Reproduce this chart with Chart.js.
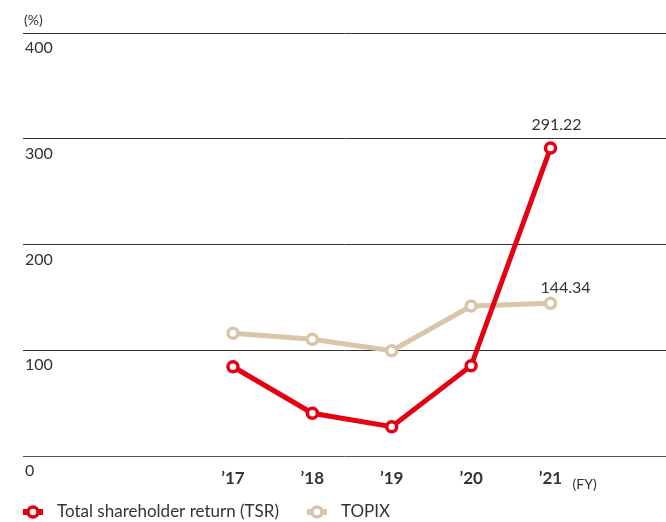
<!DOCTYPE html>
<html>
<head>
<meta charset="utf-8">
<script src="https://cdn.jsdelivr.net/npm/chart.js@4/dist/chart.umd.min.js"></script>
<style>
  html, body { margin: 0; padding: 0; background: #fff; overflow: hidden; }
  #wrap { width: 666px; height: 522px; position: relative; }
</style>
</head>
<body>
<div id="wrap"><canvas id="c"></canvas></div>
<script>
// Fiscal years on the horizontal axis
const categories = ["\u201917", "\u201918", "\u201919", "\u201920", "\u201921"];
// Total shareholder return (%)
const tsrValues = [84.4, 40.4, 27.7, 85.3, 291.22];
// TOPIX (%)
const topixValues = [116.0, 110.3, 99.5, 141.8, 144.34];
// Value axis ticks (%)
const yTickValues = [0, 100, 200, 300, 400];
const seriesNames = ["Total shareholder return (TSR)", "TOPIX"];

const FONT = "Lato, 'Noto Sans', sans-serif";
const TEXT = "#333333";

const toPoints = vals => vals.map((v, i) => ({ x: i, y: v }));

// Value label over the last point of each line, plus unit captions
const captionPlugin = {
  id: "captions",
  afterDatasetsDraw(chart, args, opts) {
    const ctx = chart.ctx;
    ctx.save();
    ctx.fillStyle = TEXT;
    ctx.textBaseline = "middle";
    ctx.textAlign = "center";
    ctx.font = "16px " + FONT;
    chart.data.datasets.forEach((ds, di) => {
      const meta = chart.getDatasetMeta(di);
      const last = meta.data.length - 1;
      const pt = meta.data[last];
      const off = opts.valueOffsets[di];
      ctx.fillText(ds.data[last].y.toFixed(2), pt.x + off[0], pt.y + off[1]);
    });
    const xs = chart.scales.x, ys = chart.scales.y;
    ctx.textAlign = "left";
    ctx.font = "14px " + FONT;
    ctx.fillText("(FY)", xs.getPixelForValue(categories.length - 1) + 22, xs.top + 28);
    ctx.fillText("(%)", ys.right + 1, chart.chartArea.top - 13);
    ctx.restore();
  }
};

// Legend row: line-with-circle marker followed by the series name
const lineLegendPlugin = {
  id: "lineLegend",
  afterDraw(chart, args, opts) {
    const ctx = chart.ctx;
    ctx.save();
    ctx.font = "17px " + FONT;
    ctx.textBaseline = "middle";
    let x = opts.x;
    const y = opts.y;
    chart.data.datasets.forEach(ds => {
      ctx.strokeStyle = ds.borderColor;
      ctx.lineWidth = ds.borderWidth + 1;
      ctx.beginPath();
      ctx.moveTo(x, y);
      ctx.lineTo(x + opts.markerWidth, y);
      ctx.stroke();
      ctx.beginPath();
      ctx.arc(x + opts.markerWidth / 2, y, ds.pointRadius, 0, Math.PI * 2);
      ctx.fillStyle = "#ffffff";
      ctx.fill();
      ctx.lineWidth = ds.pointBorderWidth;
      ctx.stroke();
      ctx.fillStyle = TEXT;
      ctx.textAlign = "left";
      ctx.fillText(ds.label, x + opts.textGap, y);
      x += opts.textGap + ctx.measureText(ds.label).width + opts.itemGap;
    });
    ctx.restore();
  }
};

const lineStyle = color => ({
  borderColor: color,
  backgroundColor: color,
  borderWidth: 5,
  pointRadius: 5,
  pointHoverRadius: 5,
  pointBorderWidth: 3.5,
  pointBackgroundColor: "#ffffff",
  pointBorderColor: color,
  tension: 0,
  fill: false
});

new Chart(document.getElementById("c"), {
  type: "line",
  data: {
    datasets: [
      Object.assign({ label: seriesNames[0], data: toPoints(tsrValues) }, lineStyle("#e50012")),
      Object.assign({ label: seriesNames[1], data: toPoints(topixValues) }, lineStyle("#d9c6a8"))
    ]
  },
  options: {
    responsive: true,
    maintainAspectRatio: false,
    animation: false,
    layout: { autoPadding: false, padding: { top: 33, left: 0, right: 0, bottom: 36 } },
    plugins: {
      legend: { display: false },
      tooltip: { enabled: false },
      captions: { valueOffsets: [[6, -23], [15, -16]] },
      lineLegend: { x: 23, y: 512, markerWidth: 20, textGap: 34, itemGap: 28 }
    },
    scales: {
      x: {
        type: "linear",
        min: -2.645,
        max: 5.455,
        grid: { display: false, drawTicks: false },
        border: { display: false },
        afterBuildTicks: s => { s.ticks = categories.map((_, i) => ({ value: i })); },
        afterFit: s => { s.height = 30; s.paddingLeft = 0; s.paddingRight = 0; },
        ticks: {
          autoSkip: false,
          maxRotation: 0,
          padding: 12,
          color: TEXT,
          font: { family: FONT, size: 17, weight: "bold" },
          callback: v => categories[v]
        }
      },
      y: {
        position: "left",
        min: 0,
        max: 400,
        afterBuildTicks: s => { s.ticks = yTickValues.map(v => ({ value: v })); },
        afterFit: s => { s.width = 23; s.paddingTop = 0; s.paddingBottom = 0; },
        grid: {
          drawTicks: false,
          lineWidth: 1,
          color: c => (c.tick && c.tick.value === 0 ? "#555555" : "#333333")
        },
        border: { display: false },
        ticks: {
          mirror: true,
          padding: 2,
          labelOffset: 15,
          color: TEXT,
          font: { family: FONT, size: 16 }
        }
      }
    }
  },
  plugins: [captionPlugin, lineLegendPlugin]
});
</script>
</body>
</html>
